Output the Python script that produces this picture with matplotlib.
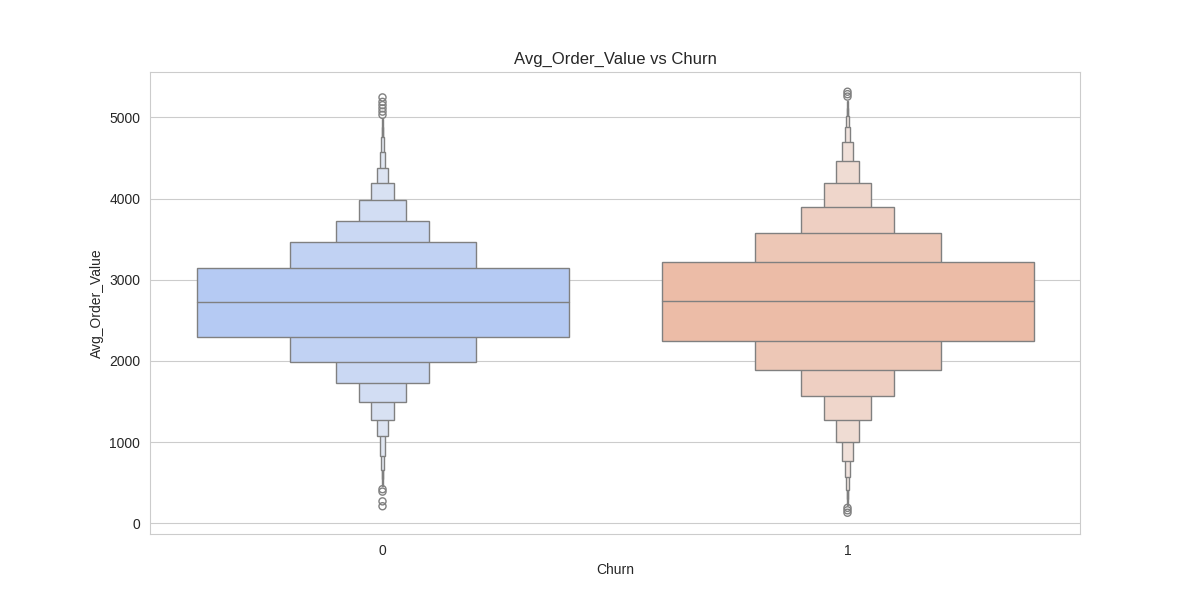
import matplotlib
matplotlib.use("Agg")
import matplotlib.pyplot as plt
import numpy as np
import seaborn as sns

# letter-value boxes, level 0 = main box (quartiles)
categories = ["0", "1"]
medians = [2725, 2734]
upper_q = [
    [3140, 3461, 3719, 3978, 4187, 4372, 4569, 4754, 4880, 4975],
    [3214, 3571, 3892, 4187, 4458, 4692, 4877, 5020, 5120, 5204],
]
lower_q = [
    [2291, 1983, 1724, 1490, 1268, 1071, 825, 653, 540, 455],
    [2241, 1884, 1564, 1268, 998, 764, 567, 406, 300, 225],
]
outliers = [
    [5245, 5190, 5150, 5110, 5070, 5030, 420, 390, 270, 210],
    [5315, 5285, 5255, 190, 160, 130],
]

sns.set_style("whitegrid")
plt.rcParams['font.family'] = ['Liberation Sans', 'DejaVu Sans']

fig, ax = plt.subplots(figsize=(12, 6), dpi=100)

pal = sns.color_palette("coolwarm", 2)
line_col = "0.5"

for i, cat in enumerate(categories):
    main = sns.desaturate(pal[i], 0.75)
    cmap = sns.light_palette(main, as_cmap=True)
    up = np.array(upper_q[i])
    lo = np.array(lower_q[i])
    n = len(up)
    # narrowest boxes first so the wider ones sit on top
    for k in range(n - 1, -1, -1):
        w = 0.8 * 2.0 ** (-k)
        ax.bar(i, up[k] - lo[k], width=w, bottom=lo[k],
               color=cmap(2.0 ** (-k / 3)), edgecolor=line_col,
               linewidth=1, zorder=3 + (n - k) * 0.01)
    ax.plot([i - 0.4, i + 0.4], [medians[i], medians[i]], color=line_col,
            lw=1, zorder=4)
    ax.scatter(np.full(len(outliers[i]), i), outliers[i], s=26,
               facecolors="none", edgecolors=line_col, linewidths=1, zorder=4)

ax.set_xlim(-0.5, 1.5)
ax.set_ylim(-132, 5558)
ax.set_xticks(range(len(categories)))
ax.set_xticklabels(categories)
ax.xaxis.grid(False)
ax.set_title("Avg_Order_Value vs Churn")
ax.set_xlabel("Churn")
ax.set_ylabel("Avg_Order_Value")

plt.savefig("out.png")
